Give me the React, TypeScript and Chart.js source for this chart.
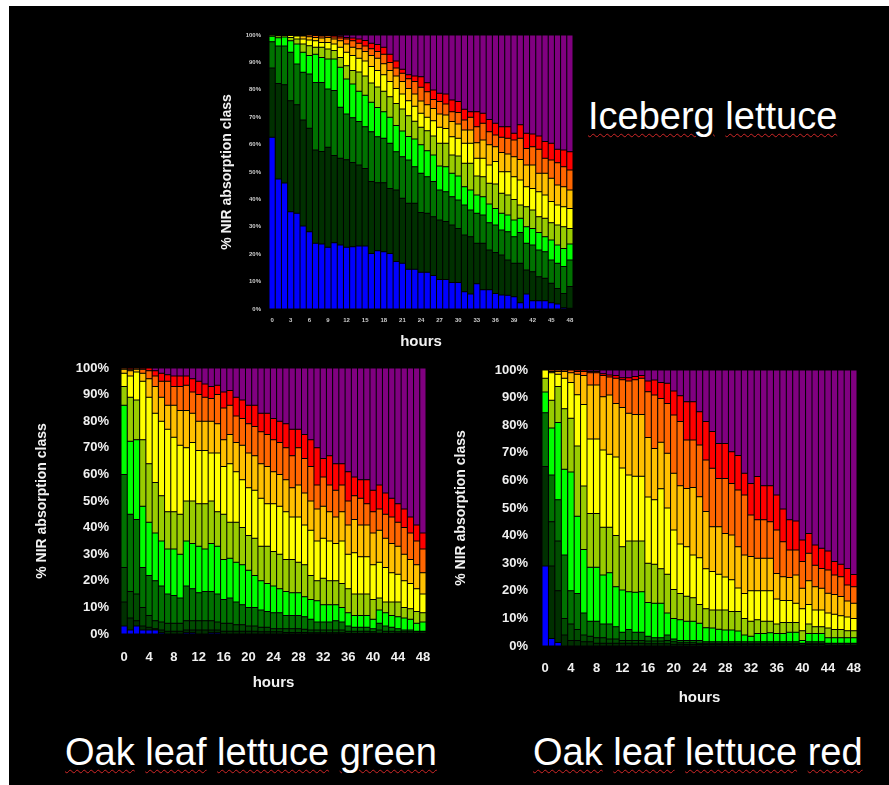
import React, { useEffect, useRef } from "react";
import { Chart, registerables } from "chart.js";

Chart.register(...registerables);

// ---------- categories ----------
const HOURS = ["0","1","2","3","4","5","6","7","8","9","10","11","12","13","14","15","16","17","18","19","20","21","22","23","24","25","26","27","28","29","30","31","32","33","34","35","36","37","38","39","40","41","42","43","44","45","46","47","48"];
const Y_TICKS = [0, 10, 20, 30, 40, 50, 60, 70, 80, 90, 100];

// ---------- class colours (bottom -> top) ----------
const C_BLUE = "#0000FF";
const C_DARK1 = "#003000";
const C_DARK2 = "#004C00";
const C_MID = "#007200";
const C_BRIGHT = "#00FF00";
const C_OLIVE = "#99CC00";
const C_YELLOW = "#FFFF00";
const C_GOLD = "#FFC000";
const C_ORANGE = "#FF6600";
const C_RED = "#FF0000";
const C_PURPLE = "#800080";

// ---------- Iceberg lettuce: cumulative upper edge (%) of each class ----------
const ICE_BLUE = [62.7,47.4,46,35.5,34.9,30.3,28.2,24,23.7,22.5,24.2,23.4,22.5,22.7,23,23,20.3,21.3,20.9,20.3,17.3,16.7,14.5,14.5,13.4,13.4,12.2,10.8,10.8,9.7,9.7,6.3,5.5,9.2,7,7,5.7,5.1,5,4.5,2.3,5.5,3,3,3,2.3,1.8,0.5,0.3];
const ICE_DARK = [88,82.3,81.8,76,74.5,69,66,58,57.5,59,56,55,54.5,53.5,52.6,51.3,46.5,46.1,46.1,44,43.4,40.4,38.6,38.6,35.2,34.9,33.7,32.5,31.9,30.7,29.4,27,26.4,24,24,21.5,20.6,19.7,17.9,16.7,16.7,14.2,13.6,11.8,11.2,9.4,7.5,5.7,8.2];
const ICE_MID = [97.5,96,96,93.7,89.4,86.4,85.8,82.7,82.7,80.3,79.7,73.6,71.2,69.8,68.4,66.5,64.7,62.9,62.3,60.5,57.4,55.6,54.4,51.9,49.5,48.3,46.5,43.4,42.8,41,39.8,38,36.1,34.9,34.3,31.5,30.7,28.8,28.2,26.4,27.9,24,23.4,21.5,20.9,17.9,16.7,15.5,17.9];
const ICE_BRIGHT = [99.5,99,99.3,97.9,96.7,93.7,92.5,93,91.8,91.2,91.2,88.2,83.9,82.1,79.5,78,75.5,73.5,72,70,67,65,63,62,59.9,57.8,56.2,52.2,51.9,49.5,48.5,44.6,43.4,41.6,41,38.3,36.7,34.9,34.3,32.5,33.1,30,29.4,27.9,26.4,25.2,23.4,22.1,23.7];
const ICE_OLIVE = [100,99.7,99.8,99.1,98.5,96.7,96.1,95.5,95.5,94.9,94.3,91.8,88.8,87,86.5,85,82.5,81,79.5,77.5,75,73,70.5,68.5,66.3,65.1,63.1,60.5,60.5,56.2,55.8,53.2,53.2,48.5,48.3,45.9,45.6,42.2,41.6,40,38,37.3,36.1,33.7,33.1,31.5,30.7,30,29.4];
const ICE_YELLOW = [100,100,100,99.8,99.6,98.5,98.2,97.9,97.3,97.3,96.7,95.5,93.7,92.5,91.5,90.5,88.5,87,85.5,83,80.5,78.5,76,74,71.4,70,68.7,66.3,65.9,62.9,62.3,60.5,60.5,55,55,52.6,53.8,50.1,50.1,48.3,47.1,44.6,44,42.8,41.6,39.2,38,37.3,36.7];
const ICE_GOLD = [100,100,100,100,100,99.6,99.4,99.1,98.9,99.1,98.5,97.9,96.7,95.5,95,94,92.5,91.5,89.5,87,85,83,80.5,78.5,75.9,74.5,73.2,71.2,70.8,68.4,67.5,65.3,65.3,60.7,61.7,59.9,59.2,57.1,56.6,55.6,54.6,52.6,52.6,49.5,49.5,47.7,45.3,44.6,43.4];
const ICE_ORANGE = [100,100,100,100,100,100,100,99.8,99.6,99.7,99.3,98.9,98.5,97.9,97,96,95,94,93,90,88,86,84,83,80.9,79.3,76.5,75.7,74.8,72,71.7,69,70,66.5,67.8,64.7,63.5,62.7,62.3,61.7,62.3,58.6,59.2,58.3,55,54.4,53.4,51.9,50.7];
const ICE_RED = [100,100,100,100,100,100,100,100,100,100,99.8,99.5,99.1,98.9,98.5,98,97,96.5,95.5,93,90.5,87.5,85.5,85,84.8,82.6,79.9,78.7,78.5,76.3,75.7,72.9,72,72,71.4,69.2,67.8,66.5,66.5,64.1,67.2,64.1,63.9,63.1,61.1,60.5,58.3,58,57.4];

// ---------- Oak leaf lettuce green ----------
const OG_BLUE = [3,1.5,3,1.5,1.5,1.5,0.5,0,0,0,0.5,0.5,0,0,0.5,0.5,0,0,0,0,0,0,0,0,0,0,0,0,0,0,0,0,0,0,0,0,0,0,0,0,0,0,0,0,0,0,0,0,0];
const OG_DARK1 = [12,6,5,3,2.5,2,1.5,1,1,1,1.5,1.5,1.5,1.5,1.5,1.5,1,1,1,1,1,1,0.8,0.8,0.8,0.8,0.6,0.6,0.6,0.6,0.5,0.5,0.5,0.5,0.5,0.5,0.3,0.3,0.3,0.3,0.3,0.3,0.3,0.3,0.3,0.3,0.3,0.3,0.3];
const OG_DARK2 = [25,16,15,10,7,5,4.5,4,4,4,5,5,5,5,5,4.5,4,4,3.5,3.5,3,3,2.5,2.5,2,2,2,2,2,1.8,1.5,1.5,1.5,1.5,1.5,1.5,1,1,1,1,0.8,1.5,1,1,0.8,0.8,0.8,0.8,0.8];
const OG_MID = [60,45,43,25,22,20,18,15,14.5,13.5,18,17,15.5,16,16,15,13,13.5,12,11,10,10,9,8.5,8,8,7,7,7,6.5,5.5,4.5,4.5,4.5,5,4.5,3,2.5,2.5,2.5,2,4,3,2.5,2,1.5,1.5,1,1];
const OG_BRIGHT = [86,72.5,73,48,42,38,35,32,32,30,35,34,33,32,34,33,28,28.5,27,26,24,22,20,19,18,17,16,15.5,15.5,14,13,12.5,11,11,11,10,8,7,7,7,5.5,9,8,7,6.5,6,5.5,4,4.5];
const OG_OLIVE = [93,89,88,73,64,57,52,46,46,45,50,50,49,49,50,46,45,42,42,40,37,36,33,33,31,30,28,28,27,26,22,20,21,20,20,19,17,15,15,15,13,13.5,12,12,12,10,9.5,8.5,8];
const OG_YELLOW = [98,97,98.5,95,89,83,80,77,74,71,70,72,69,69,68,68,63,64,61,58,55,54,51,49,49,48,46,44,44,41,39,35,36,35,34,35,30,30.5,29,29,26,27,25,23,22.5,20,19,17,15];
const OG_GOLD = [99.5,99,99.5,98,96,93,89,86,86,84,84,83,80,80,80,79,73,75,72,71,68,67,64,63,61,60,58,55,56,53,50,47,48,46,44,46,41,43,41,41,38,39,36,34,33,30,28,26,23];
const OG_ORANGE = [100,99.5,100,99.5,99,97,95,95,93,93,93.5,91,90,89,88.5,90,85,86,82,81,79,78,76,75,73,72,70,67,70,66,63,56,59,56,54,56,50,52,51,49,46,47,45,44,42,40,38,35,32];
const OG_RED = [100,100,100,100,100,99,98,97.5,97,97,97,96,95,94,93,93.5,91,91.5,89,88,86,86,83,83,81,80,79,77,77,75,73,70,66,67,64,64,61,59,58,58,54,56,53,51,49,47,44,41,38];

// ---------- Oak leaf lettuce red ----------
const OR_BLUE = [29,2.7,1.3,0,0,0,0,0,0,0,0,0,0,0,0,0,0,0,0,0,0,0,0,0,0,0,0,0,0,0,0,0,0,0,0,0,0,0,0,0,0,0,0,0,0,0,0,0,0];
const OR_DARK1 = [65,29,20,4,2,2,1.5,1.5,1,1,1,1,1,1,1,1,0.8,0.8,0.8,0.8,0.6,0.6,0.5,0.5,0.5,0.5,0.5,0.5,0.5,0.5,0.5,0.5,0.5,0.5,0.5,0.5,0.5,0.5,0.5,0.5,0.3,0.5,0.5,0.5,0.3,0.3,0.3,0.3,0.3];
const OR_DARK2 = [65,45,38,10,8,6,4,3.5,3,3,2.5,2.5,2,2,2,2,1.8,1.8,1.8,2,1.5,1.2,1.2,1.2,1,1,1,1,1,1,1,1,1,1,1,1,1,1,1,1,0.8,1,1,1,0.8,0.8,0.8,0.8,0.8];
const OR_MID = [84.5,62,53,33,20,19,12,9,9,8,8,7,5,6,5,5,3.5,3,3,4,2.5,2,2,2,2,1.5,1.5,1.5,1.5,1.5,1.5,1.5,1.5,1.5,1.5,1.5,1.5,1.5,1.5,1.5,1,1.5,1.5,1.5,1,1,1,1,1];
const OR_BRIGHT = [92,79,81,64,63,47,35,28.5,28.5,25.7,26.5,21.5,20.3,19.7,19.5,19.7,15.8,15.5,15.5,12,10,9.5,9,9,8.2,6.6,6.5,6.1,5.8,5.8,5.4,4,3.5,4.5,4.5,4.8,4.5,4.5,5,5,2,4.5,4.5,4.5,3,3,3,3,3];
const OR_OLIVE = [97,89,94,86,82.5,72.5,58,48,48,43,43,40,36,38,38,38,30,29.6,28,26,20.5,19,18,17.5,15,13.5,13,13,13,12.5,12.5,10,9,9.5,9,9,8,8.5,8.5,8.5,5.5,8,7,7,6.5,6,6,5.5,5.5];
const OR_YELLOW = [100,99,98.5,97,95.5,91,87.5,75,75,71,69.5,68.5,64.5,62,61.5,61.5,54,53,57,50,42,37,36,33,32,28,27,26,25,24,21,19,20,20,20,20,17,16.5,16.5,15.5,13.5,15,13,13,12,11.5,11,10.5,10];
const OR_GOLD = [100,99.5,99.5,99.5,99,98.5,98,94.6,94.6,90.3,90.9,87.9,86.4,84.3,83.9,83.9,75.5,71.6,73.8,69.8,62.6,58.1,57.1,57.4,54.1,48.7,43.2,43.2,40.8,40.2,36,33,32.4,31.8,31.8,31.8,26.3,25.1,24.8,25.7,20.9,23.6,21.5,20.9,19.1,18.7,17.9,16.3,15.5];
const OR_ORANGE = [100,100,100,100,100,99.5,99.5,99,99,98,97.5,97,96.5,96,96.5,97,92.1,90.9,89.7,87.9,83.7,81.3,74.6,74.6,72.8,67.4,64.4,60.7,60.7,58.9,56.5,54.7,47.5,45.7,45.7,45,42,37.8,34.8,34.8,30.6,33.6,29.3,28.1,27.5,25.7,25.1,22.1,21.5];
const OR_RED = [100,100,100,100,100,100,100,99.5,99.5,98.6,98.2,98,97.2,97.2,97.6,98,96,96.4,95.5,95.2,92.4,90.7,88.5,88.5,84.9,81.3,77.7,73.4,73.4,70.4,69,62.6,58.9,61.4,58.1,58.1,54.7,49.6,45.7,45.3,38.4,40.8,36.6,35.4,34.4,30.6,29.6,28.1,25.9];

const FONT = "'Liberation Sans', Arial, Helvetica, sans-serif";
Chart.defaults.font.family = FONT;

type Layer = { top: number[]; color: string };

function buildDatasets(layers: Layer[]) {
  const full: Layer[] = [...layers, { top: HOURS.map(() => 100), color: C_PURPLE }];
  return full.map((layer, k) => ({
    label: "class " + (k + 1),
    data: layer.top.map((v, i) => {
      const below = k === 0 ? 0 : full[k - 1].top[i];
      return Math.max(0, Math.round((v - below) * 100) / 100);
    }),
    backgroundColor: layer.color,
    borderColor: "#000000",
    borderWidth: 0.5,
    borderSkipped: false as const,
    inflateAmount: 0,
    barPercentage: 1,
    categoryPercentage: 1,
  }));
}

type Spec = {
  left: number; top: number; width: number; height: number;
  layers: Layer[];
  yW: number; xH: number; padT: number; padR: number;
  tickSize: number; tickColor: string; yTickPad: number; xTickPad: number; every: number;
  yTitlePad: number; xTitlePadB: number; yTitleSize: number; xTitleSize: number;
};

function StackChart({ spec }: { spec: Spec }) {
  const ref = useRef<HTMLCanvasElement | null>(null);
  useEffect(() => {
    if (!ref.current) return;
    const s = spec;
    const chart = new Chart(ref.current, {
      type: "bar",
      data: { labels: HOURS, datasets: buildDatasets(s.layers) as any },
      options: {
        animation: false,
        responsive: false,
        layout: { autoPadding: false, padding: { left: 0, top: s.padT, right: s.padR, bottom: 0 } },
        plugins: { legend: { display: false }, tooltip: { enabled: false }, title: { display: false } },
        scales: {
          x: {
            stacked: true,
            afterFit: (sc: any) => {
              sc.height = s.xH;
              sc.paddingLeft = 0;
              sc.paddingRight = 0;
            },
            grid: { display: false, drawTicks: false },
            border: { display: false },
            ticks: {
              autoSkip: false, maxRotation: 0, minRotation: 0,
              padding: s.xTickPad,
              color: s.tickColor,
              font: { size: s.tickSize, weight: "bold" },
              callback: (_v: any, idx: number) => (idx % s.every === 0 ? HOURS[idx] : ""),
            },
            title: {
              display: true, text: "hours", color: "#f2f2f2",
              font: { size: s.xTitleSize, weight: "bold" },
              padding: { top: 0, bottom: s.xTitlePadB },
            },
          },
          y: {
            stacked: true, min: 0, max: 100,
            afterFit: (sc: any) => {
              sc.width = s.yW;
              sc.paddingTop = 0;
              sc.paddingBottom = 0;
            },
            afterBuildTicks: (sc: any) => { sc.ticks = Y_TICKS.map((v) => ({ value: v })); },
            grid: { display: false, drawTicks: false },
            border: { display: false },
            ticks: {
              padding: s.yTickPad,
              color: s.tickColor,
              font: { size: s.tickSize, weight: "bold" },
              callback: (v: any) => v + "%",
            },
            title: {
              display: true, text: "% NIR absorption class", color: "#f2f2f2",
              font: { size: s.yTitleSize, weight: "bold" },
              padding: { top: s.yTitlePad, bottom: 0 },
            },
          },
        },
      } as any,
    });
    return () => chart.destroy();
  }, [spec]);
  return (
    <canvas
      ref={ref}
      width={spec.width}
      height={spec.height}
      style={{ position: "absolute", left: spec.left, top: spec.top, width: spec.width, height: spec.height }}
    />
  );
}

const ICE_SPEC: Spec = {
  left: 205, top: 20, width: 380, height: 340,
  layers: [
    { top: ICE_BLUE, color: C_BLUE },
    { top: ICE_DARK, color: C_DARK1 },
    { top: ICE_MID, color: C_MID },
    { top: ICE_BRIGHT, color: C_BRIGHT },
    { top: ICE_OLIVE, color: C_OLIVE },
    { top: ICE_YELLOW, color: C_YELLOW },
    { top: ICE_GOLD, color: C_GOLD },
    { top: ICE_ORANGE, color: C_ORANGE },
    { top: ICE_RED, color: C_RED },
  ],
  yW: 64, xH: 51, padT: 15, padR: 12,
  tickSize: 6, tickColor: "#cfcfcf", yTickPad: 8, xTickPad: 8, every: 3,
  yTitlePad: 14, xTitlePadB: 9, yTitleSize: 14, xTitleSize: 15,
};

const OG_SPEC: Spec = {
  left: 20, top: 355, width: 420, height: 345,
  layers: [
    { top: OG_BLUE, color: C_BLUE },
    { top: OG_DARK1, color: C_DARK1 },
    { top: OG_DARK2, color: C_DARK2 },
    { top: OG_MID, color: C_MID },
    { top: OG_BRIGHT, color: C_BRIGHT },
    { top: OG_OLIVE, color: C_OLIVE },
    { top: OG_YELLOW, color: C_YELLOW },
    { top: OG_GOLD, color: C_GOLD },
    { top: OG_ORANGE, color: C_ORANGE },
    { top: OG_RED, color: C_RED },
  ],
  yW: 101, xH: 66, padT: 13, padR: 14,
  tickSize: 13, tickColor: "#f0f0f0", yTickPad: 12, xTickPad: 16, every: 4,
  yTitlePad: 14, xTitlePadB: 8, yTitleSize: 14, xTitleSize: 15,
};

const OR_SPEC: Spec = {
  left: 440, top: 355, width: 430, height: 360,
  layers: [
    { top: OR_BLUE, color: C_BLUE },
    { top: OR_DARK1, color: C_DARK1 },
    { top: OR_DARK2, color: C_DARK2 },
    { top: OR_MID, color: C_MID },
    { top: OR_BRIGHT, color: C_BRIGHT },
    { top: OR_OLIVE, color: C_OLIVE },
    { top: OR_YELLOW, color: C_YELLOW },
    { top: OR_GOLD, color: C_GOLD },
    { top: OR_ORANGE, color: C_ORANGE },
    { top: OR_RED, color: C_RED },
  ],
  yW: 102, xH: 69, padT: 15, padR: 13,
  tickSize: 13, tickColor: "#f0f0f0", yTickPad: 14, xTickPad: 15, every: 4,
  yTitlePad: 13, xTitlePadB: 8, yTitleSize: 14, xTitleSize: 15,
};

const wavy: React.CSSProperties = {
  textDecorationLine: "underline",
  textDecorationStyle: "wavy",
  textDecorationColor: "#d02828",
  textDecorationThickness: "1px",
  textUnderlineOffset: "4px",
};

function BigTitle({ words, left, top }: { words: string[]; left: number; top: number }) {
  return (
    <div
      style={{
        position: "absolute", left, top, color: "#ffffff", fontFamily: FONT,
        fontSize: 38, lineHeight: "38px", whiteSpace: "nowrap",
      }}
    >
      {words.map((w, i) => (
        <React.Fragment key={i}>
          {i > 0 ? " " : null}
          <span style={wavy}>{w}</span>
        </React.Fragment>
      ))}
    </div>
  );
}

export default function App() {
  return (
    <div style={{ position: "absolute", left: 0, top: 0, width: 889, height: 785, background: "#ffffff", overflow: "hidden" }}>
      <div style={{ position: "absolute", left: 9, top: 6, width: 880, height: 779, background: "#000000" }} />
      <StackChart spec={ICE_SPEC} />
      <StackChart spec={OG_SPEC} />
      <StackChart spec={OR_SPEC} />
      <BigTitle words={["Iceberg", "lettuce"]} left={588} top={97} />
      <BigTitle words={["Oak", "leaf", "lettuce", "green"]} left={65} top={733} />
      <BigTitle words={["Oak", "leaf", "lettuce", "red"]} left={533} top={733} />
    </div>
  );
}
